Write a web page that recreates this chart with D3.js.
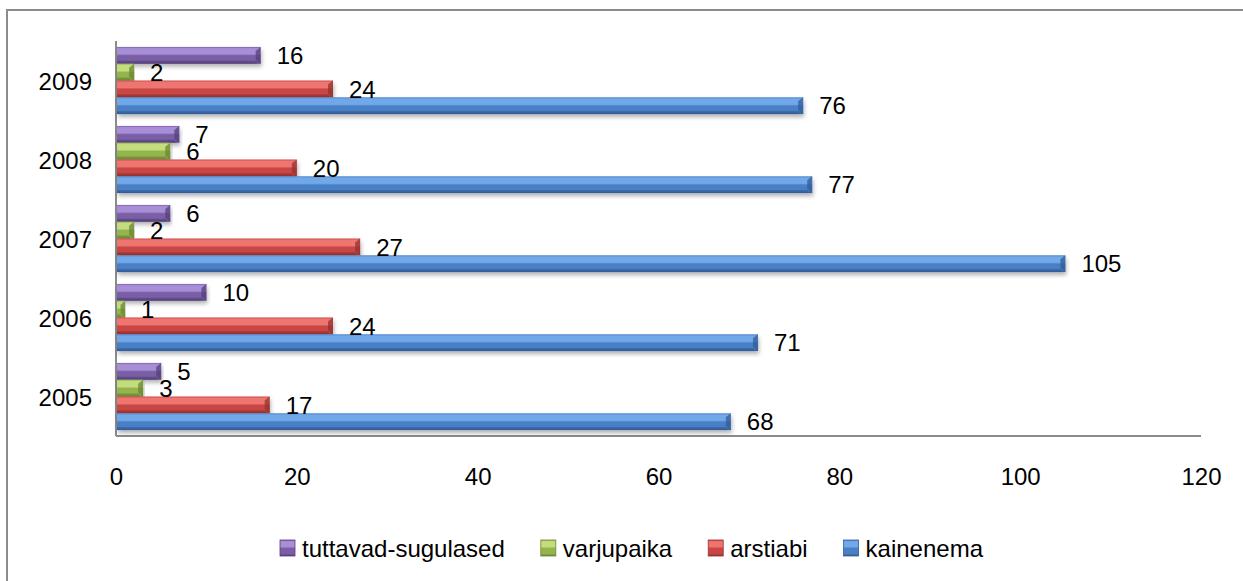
<!DOCTYPE html>
<html>
<head>
<meta charset="utf-8">
<script src="https://cdn.jsdelivr.net/npm/d3@7"></script>
<style>
  body { margin: 0; background: #fff; }
  svg text { font-family: "Liberation Sans", Arial, sans-serif; fill: #000; }
</style>
</head>
<body>
<script>
// data
var years = ['2005', '2006', '2007', '2008', '2009'];
var seriesNames = ['tuttavad-sugulased', 'varjupaika', 'arstiabi', 'kainenema'];
var tuttavad = [5, 10, 6, 7, 16];
var varjupaika = [3, 1, 2, 6, 2];
var arstiabi = [17, 24, 27, 20, 24];
var kainenema = [68, 71, 105, 77, 76];
var xTicks = [0, 20, 40, 60, 80, 100, 120];

var seriesValues = [tuttavad, varjupaika, arstiabi, kainenema];
// light, base, dark per series
var palette = [
  ['#a88ed6', '#7a5fa6', '#54407a'],
  ['#c2dc7e', '#94b44e', '#6a8534'],
  ['#ee7470', '#c84744', '#943130'],
  ['#70a8ea', '#4a7fc4', '#325c96']
];

var W = 1243, H = 581;
var plotLeft = 116, plotRight = 1201, plotTop = 41, plotBottom = 436;

var svg = d3.select('body')
  .append('svg')
  .attr('width', W)
  .attr('height', H);

var defs = svg.append('defs');

palette.forEach(function (c, i) {
  var g = defs.append('linearGradient')
    .attr('id', 'grad' + i)
    .attr('x1', 0).attr('y1', 0).attr('x2', 0).attr('y2', 1);
  g.append('stop').attr('offset', '0%').attr('stop-color', c[1]);
  g.append('stop').attr('offset', '10%').attr('stop-color', c[0]);
  g.append('stop').attr('offset', '42%').attr('stop-color', c[0]);
  g.append('stop').attr('offset', '52%').attr('stop-color', c[1]);
  g.append('stop').attr('offset', '85%').attr('stop-color', c[1]);
  g.append('stop').attr('offset', '100%').attr('stop-color', c[2]);
});

var shadow = defs.append('filter').attr('id', 'shadow')
  .attr('x', '-5%').attr('y', '-20%').attr('width', '110%').attr('height', '160%');
shadow.append('feDropShadow')
  .attr('dx', 1).attr('dy', 3).attr('stdDeviation', 2)
  .attr('flood-color', '#000').attr('flood-opacity', 0.3);

// outer frame
svg.append('rect')
  .attr('x', 7).attr('y', 10)
  .attr('width', W + 20).attr('height', H + 20)
  .attr('fill', 'none')
  .attr('stroke', '#8c8c8c')
  .attr('stroke-width', 2);

var x = d3.scaleLinear().domain([0, 120]).range([plotLeft, plotRight]);

var y = d3.scaleBand()
  .domain(years.slice().reverse())
  .range([plotTop, plotBottom])
  .paddingInner(0.15)
  .paddingOuter(0.075);

var yInner = d3.scaleBand()
  .domain(seriesNames)
  .range([0, y.bandwidth()]);

// axes lines
svg.append('line')
  .attr('x1', plotLeft).attr('x2', plotRight)
  .attr('y1', plotBottom).attr('y2', plotBottom)
  .attr('stroke', '#8c8c8c').attr('stroke-width', 2);
svg.append('line')
  .attr('x1', plotLeft).attr('x2', plotLeft)
  .attr('y1', plotTop).attr('y2', plotBottom)
  .attr('stroke', '#8c8c8c').attr('stroke-width', 2);

var xAxis = d3.axisBottom(x).tickValues(xTicks).tickSize(0).tickPadding(32);
var gx = svg.append('g')
  .attr('transform', 'translate(0,' + plotBottom + ')')
  .call(xAxis);
gx.select('.domain').remove();
gx.selectAll('text').style('font-size', '24px').attr('fill', '#000');

var yAxis = d3.axisLeft(y).tickSize(0).tickPadding(24);
var gy = svg.append('g')
  .attr('transform', 'translate(' + plotLeft + ',0)')
  .call(yAxis);
gy.select('.domain').remove();
gy.selectAll('text').style('font-size', '24px').attr('fill', '#000').attr('dy', '0.4em');

// bars
var rows = [];
years.forEach(function (yr, i) {
  seriesNames.forEach(function (s, j) {
    rows.push({ year: yr, series: s, si: j, value: seriesValues[j][i] });
  });
});

var bars = svg.append('g').selectAll('g.bar')
  .data(rows)
  .enter()
  .append('g')
  .attr('class', 'bar');

bars.append('rect')
  .attr('x', x(0) + 1)
  .attr('y', function (d) { return y(d.year) + yInner(d.series); })
  .attr('width', function (d) { return x(d.value) - x(0) - 1; })
  .attr('height', yInner.bandwidth())
  .attr('fill', function (d) { return 'url(#grad' + d.si + ')'; })
  .attr('filter', 'url(#shadow)');

// bevel at the bar end
bars.append('polygon')
  .attr('points', function (d) {
    var x1 = x(d.value), y0 = y(d.year) + yInner(d.series), h = yInner.bandwidth();
    var b = Math.min(5, (x1 - x(0)) / 2);
    return [[x1 - b, y0 + 4], [x1, y0], [x1, y0 + h], [x1 - b, y0 + h - 4]].join(' ');
  })
  .attr('fill', function (d) { return palette[d.si][2]; })
  .attr('opacity', 0.75);

// bottom edge shade
bars.append('rect')
  .attr('x', x(0) + 1)
  .attr('y', function (d) { return y(d.year) + yInner(d.series) + yInner.bandwidth() - 3; })
  .attr('width', function (d) { return Math.max(0, x(d.value) - x(0) - 5); })
  .attr('height', 3)
  .attr('fill', function (d) { return palette[d.si][2]; })
  .attr('opacity', 0.6);

// data labels
svg.append('g').selectAll('text')
  .data(rows)
  .enter()
  .append('text')
  .attr('x', function (d) { return x(d.value) + 16; })
  .attr('y', function (d) { return y(d.year) + yInner(d.series) + yInner.bandwidth() / 2; })
  .attr('dy', '0.36em')
  .style('font-size', '24px')
  .text(function (d) { return d.value; });

// legend
var legend = svg.append('g').attr('transform', 'translate(280,548)');
var lx = 0;
seriesNames.forEach(function (s, i) {
  var item = legend.append('g').attr('transform', 'translate(' + lx + ',0)');
  item.append('rect')
    .attr('x', 0).attr('y', -8)
    .attr('width', 15).attr('height', 16)
    .attr('fill', 'url(#grad' + i + ')')
    .attr('stroke', palette[i][2])
    .attr('stroke-width', 0.8);
  var t = item.append('text')
    .attr('x', 22)
    .attr('y', 0)
    .attr('dy', '0.36em')
    .style('font-size', '24px')
    .text(s);
  lx += 22 + t.node().getComputedTextLength() + 36;
});
</script>
</body>
</html>
